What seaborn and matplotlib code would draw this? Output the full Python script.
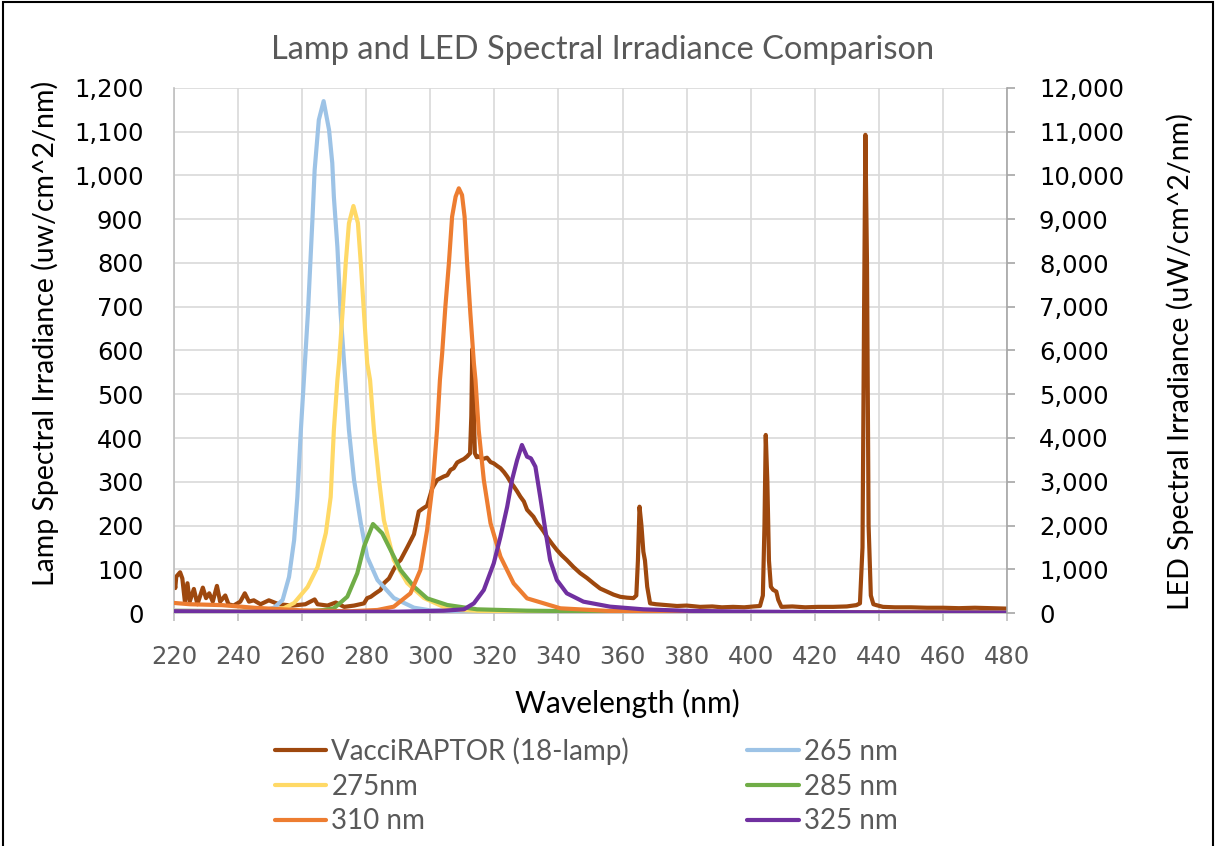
import matplotlib
matplotlib.use("Agg")
import matplotlib.pyplot as plt
import matplotlib.patches as mpatches
from matplotlib.ticker import FuncFormatter
import seaborn as sns
import pandas as pd

# ---------------- data ----------------
lamp_nm = [220.0, 220.4, 220.7, 221.9, 222.6, 223.4, 224.2, 224.9, 226.2, 227.3, 229.0, 230.0,
           231.0, 232.1, 233.4, 234.4, 236.0, 237.0, 238.6, 240.7, 242.1, 243.4, 244.9, 247.0,
           249.6, 252.7, 256.9, 261.0, 263.9, 264.8, 267.9, 270.5, 273.1, 276.2, 279.3, 280.3,
           281.4, 282.9, 284.5, 285.5, 287.1, 288.6, 289.7, 290.7, 292.8, 294.9, 296.4, 297.5,
           299.0, 300.6, 302.1, 304.2, 305.3, 306.3, 307.3, 308.4, 309.4, 310.5, 311.5, 312.4,
           312.8, 313.1, 313.5, 313.9, 314.5, 315.1, 316.4, 317.7, 318.8, 319.8, 320.9, 321.9,
           323.0, 324.0, 325.0, 326.1, 327.1, 328.1, 329.2, 330.2, 331.2, 332.2, 333.3, 334.3,
           335.4, 336.4, 338.0, 339.5, 341.0, 342.6, 344.7, 346.8, 348.9, 350.9, 353.0, 355.1,
           357.2, 359.3, 361.4, 363.4, 364.3, 364.8, 365.3, 365.9, 366.5, 367.0, 367.7, 368.6,
           370.5, 373.8, 377.0, 380.0, 384.2, 388.0, 391.0, 394.5, 398.0, 401.0, 402.9, 403.8,
           404.3, 404.7, 405.2, 405.7, 406.3, 407.0, 408.0, 408.6, 409.6, 413.0, 417.0, 421.0,
           425.7, 430.0, 433.0, 434.1, 434.9, 435.4, 435.8, 436.3, 436.8, 437.5, 438.3, 439.2,
           441.3, 445.0, 450.0, 455.0, 460.0, 465.0, 470.0, 475.0, 480.0]
lamp_val = [75, 57, 83, 93, 79, 26, 68, 26, 55, 20, 58, 34,
            45, 26, 62, 26, 40, 20, 17, 26, 45, 26, 29, 20,
            29, 20, 17, 20, 31, 20, 17, 24, 14, 17, 22, 34,
            37, 45, 53, 68, 79, 100, 114, 121, 150, 180, 232, 238,
            245, 285, 304, 312, 315, 327, 331, 344, 348, 352, 358, 365,
            450, 603, 480, 365, 356, 358, 352, 355, 345, 342, 336, 331,
            322, 312, 300, 289, 278, 266, 255, 236, 228, 220, 206, 197,
            186, 174, 158, 144, 132, 121, 105, 91, 80, 68, 56, 49,
            42, 37, 35, 34, 40, 120, 243, 200, 140, 120, 60, 22,
            20, 18, 16, 17, 14, 15, 13, 14, 13, 15, 16, 40,
            200, 407, 300, 120, 60, 53, 49, 30, 14, 15, 13, 14,
            14, 15, 18, 22, 150, 700, 1093, 800, 200, 40, 20, 18,
            14, 13, 13, 12, 12, 11, 12, 11, 10]

led265_nm = [220, 240, 248, 251.2, 253.9, 255.9, 257.5, 258.5, 259.6, 260.6, 261.8, 263.2,
             263.9, 265.2, 266.7, 268.4, 269.4, 269.9, 271.0, 272.0, 273.1, 274.6, 276.2,
             278.3, 280.3, 283.5, 288.6, 294.9, 300, 320, 360, 480]
led265_val = [60, 40, 60, 120, 297, 823, 1669, 2651, 4183, 5400, 6857, 8983,
              10126, 11270, 11700, 11040, 10286, 9509, 8366, 6857, 5714, 4183, 3040,
              2057, 1280, 754, 343, 121, 60, 30, 15, 10]

led275_nm = [220, 240, 250, 254.4, 257.5, 261.7, 264.8, 267.4, 268.9, 269.9, 271.0, 271.5,
             272.6, 273.6, 274.6, 276.0, 277.4, 278.3, 279.3, 280.3, 281.2, 282.4, 284.0,
             285.5, 288.6, 292.8, 298.0, 304.2, 309.4, 320, 360, 480]
led275_val = [50, 40, 60, 114, 229, 594, 1051, 1829, 2651, 4183, 5326, 5714,
              6857, 8000, 8907, 9303, 8914, 8000, 6857, 5714, 5326, 4183, 3040,
              2126, 1211, 686, 343, 137, 69, 30, 15, 10]

led285_nm = [220, 250, 260, 266.8, 269.9, 274.1, 277.2, 279.3, 282.1, 285.0, 287.6, 290.7,
             294.9, 299.0, 305.3, 314.6, 330.2, 360, 400, 480]
led285_val = [30, 20, 30, 69, 107, 373, 907, 1516, 2034, 1821, 1440, 983,
              602, 335, 183, 84, 53, 30, 20, 10]

led310_nm = [220, 225, 235, 245, 260, 275, 283.5, 288.6, 293.8, 296.9, 299.0, 300.9, 302.1,
             303.0, 303.7, 304.7, 305.8, 306.8, 307.9, 308.9, 309.9, 310.7, 311.5, 312.5,
             313.6, 314.1, 315.1, 316.7, 318.8, 321.9, 326.0, 330.2, 340.6, 356.1, 380, 420, 480]
led310_val = [230, 200, 180, 120, 60, 40, 69, 145, 450, 983, 1897, 3040, 4183,
              5326, 5936, 7001, 7993, 9058, 9516, 9707, 9554, 9058, 7993, 6850,
              5707, 5326, 4183, 3040, 2050, 1287, 678, 335, 107, 46, 25, 15, 10]

led325_nm = [220, 240, 260, 290, 304.2, 310.5, 313.6, 316.7, 319.8, 321.9, 324.0, 325.5,
             327.1, 328.6, 330.2, 331.4, 332.8, 334.3, 335.9, 337.4, 339.5, 342.6, 347.8,
             356.1, 366.5, 380, 400, 440, 480]
led325_val = [40, 30, 25, 30, 53, 84, 221, 526, 1135, 1745, 2430, 3040,
              3497, 3840, 3573, 3535, 3345, 2659, 1897, 1211, 754, 450, 259,
              145, 84, 50, 30, 15, 10]

x_ticks = list(range(220, 481, 20))
left_ticks = list(range(0, 1201, 100))
right_ticks = list(range(0, 12001, 1000))

title = "Lamp and LED Spectral Irradiance Comparison"
x_label = "Wavelength (nm)"
left_label = "Lamp Spectral Irradiance (uw/cm^2/nm)"
right_label = "LED Spectral Irradiance (uW/cm^2/nm)"

# ---------------- style ----------------
sns.set_theme(style="white")
plt.rcParams["font.family"] = ["DejaVu Sans"]
LABEL_FONT = "Lato"

colors = {
    "VacciRAPTOR (18-lamp)": "#9E480E",
    "265 nm": "#9DC3E6",
    "275nm": "#FFD966",
    "285 nm": "#70AD47",
    "310 nm": "#ED7D31",
    "325 nm": "#7030A0",
}

fig, ax = plt.subplots(figsize=(12.15, 8.46), dpi=100)
fig.subplots_adjust(left=174 / 1215, right=1007 / 1215, top=1 - 88 / 846, bottom=1 - 613 / 846)
ax2 = ax.twinx()

LW = 3.0
lamp_df = pd.DataFrame({"nm": lamp_nm, "val": lamp_val})
sns.lineplot(data=lamp_df, x="nm", y="val", ax=ax, color=colors["VacciRAPTOR (18-lamp)"],
             lw=LW, estimator=None, sort=False, label="VacciRAPTOR (18-lamp)", legend=False)

led_series = [("265 nm", led265_nm, led265_val), ("275nm", led275_nm, led275_val),
              ("285 nm", led285_nm, led285_val), ("310 nm", led310_nm, led310_val),
              ("325 nm", led325_nm, led325_val)]
for name, xs, ys in led_series:
    df = pd.DataFrame({"nm": xs, "val": ys})
    sns.lineplot(data=df, x="nm", y="val", ax=ax2, color=colors[name], lw=LW,
                 estimator=None, sort=False, label=name, legend=False)

ax.set_xlim(220, 480)
ax.set_ylim(0, 1200)
ax2.set_ylim(0, 12000)
ax.set_xticks(x_ticks)
ax.set_yticks(left_ticks)
ax2.set_yticks(right_ticks)
comma = FuncFormatter(lambda v, p: f"{int(v):,}")
ax.yaxis.set_major_formatter(comma)
ax2.yaxis.set_major_formatter(comma)

ax.grid(True, axis="both", color="#D9D9D9", lw=1.2)
ax2.grid(False)
ax.set_axisbelow(True)

for a in (ax, ax2):
    a.spines["top"].set_visible(False)
    a.set_xlabel("")
    a.set_ylabel("")
ax.spines["right"].set_visible(False)
ax2.spines["left"].set_visible(False)
ax2.spines["bottom"].set_visible(False)
ax.spines["left"].set_color("#BFBFBF")
ax.spines["left"].set_linewidth(1.2)
ax.spines["bottom"].set_color("#BFBFBF")
ax.spines["bottom"].set_linewidth(1.2)
ax2.spines["right"].set_color("#A6A6A6")
ax2.spines["right"].set_linewidth(1.2)

TICK_FS = 17.5
ax.tick_params(axis="y", length=0, pad=22, labelsize=TICK_FS, labelcolor="black")
ax.tick_params(axis="x", length=6, width=1.2, color="#BFBFBF", direction="out", pad=17,
               labelsize=TICK_FS, labelcolor="#595959", bottom=True)
ax2.tick_params(axis="y", length=6, width=1.2, color="#A6A6A6", direction="out", pad=17,
                labelsize=TICK_FS, labelcolor="black", right=True)

fig.text(603 / 1215, 1 - 50 / 846, title, ha="center", va="center", fontsize=23.5,
         color="#595959", family=LABEL_FONT)
fig.text(45 / 1215, 1 - 333 / 846, left_label, rotation=90, ha="center", va="center",
         fontsize=20.5, color="black", family=LABEL_FONT)
fig.text(1180 / 1215, 1 - 362 / 846, right_label, rotation=90, ha="center", va="center",
         fontsize=20.5, color="black", family=LABEL_FONT)
fig.text(627 / 1215, 1 - 703 / 846, x_label, ha="center", va="center", fontsize=21.5,
         color="black", family=LABEL_FONT)

# legend: column-wise fill gives the reference row layout
h1, l1 = ax.get_legend_handles_labels()
h2, l2 = ax2.get_legend_handles_labels()
hmap = dict(zip(l1 + l2, h1 + h2))
order = ["VacciRAPTOR (18-lamp)", "275nm", "310 nm", "265 nm", "285 nm", "325 nm"]
leg = fig.legend([hmap[k] for k in order], order, loc="upper left",
                 bbox_to_anchor=(275 / 1215, 1 - 737.5 / 846), ncol=2, frameon=False,
                 prop={"family": LABEL_FONT, "size": 20}, handlelength=1.85,
                 handletextpad=0.18, columnspacing=4.25, labelspacing=0.31, borderpad=0,
                 borderaxespad=0)
for t in leg.get_texts():
    t.set_color("#595959")

fig.patches.append(mpatches.Rectangle((0.0025, -0.1), 0.9955, 1.0975, transform=fig.transFigure,
                                      fill=False, ec="black", lw=1.5))

fig.savefig("out.png", dpi=100)
